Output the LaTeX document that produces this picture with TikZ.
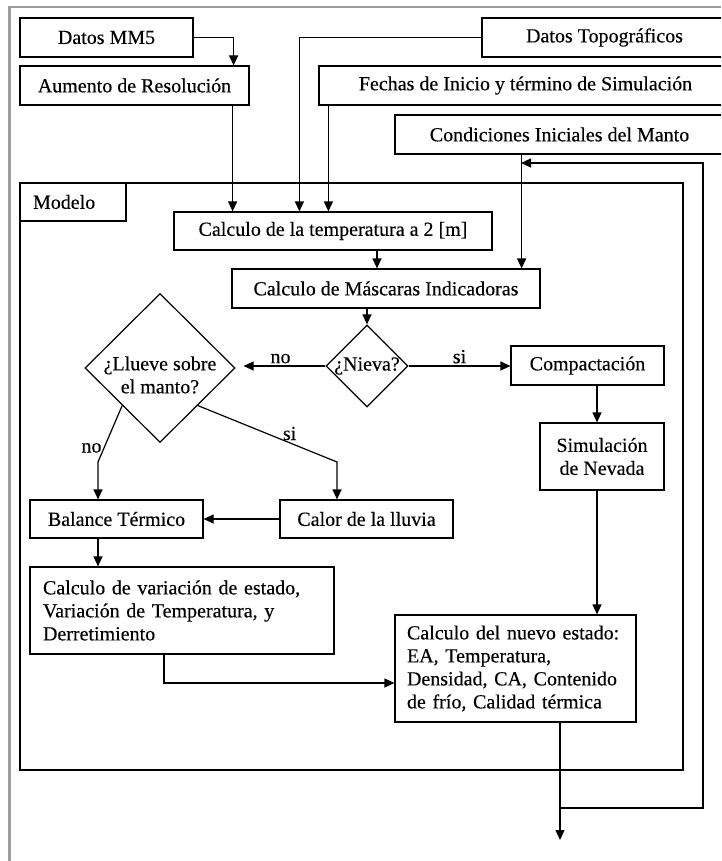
\documentclass[tikz,border=0pt]{standalone}
\usepackage{fontspec}
\setmainfont{Liberation Serif}[FakeBold=0.3]
\usetikzlibrary{shapes.geometric,arrows.meta}

\tikzset{
  box/.style={draw, line width=1.2pt, inner sep=2pt, align=center},
  decision/.style={draw, diamond, line width=1.2pt, inner sep=0pt},
  arr/.style={line width=1.2pt, -{Triangle[length=10pt,width=9pt]}},
  lab/.style={inner sep=2pt},
}

\begin{document}
\begin{tikzpicture}[x=1pt, y=-1pt, font=\fontsize{20}{23}\selectfont]
    \useasboundingbox (0,0) rectangle (721,861);
    \clip (0,0) rectangle (721,861);

    % Page frame (grey)
    \draw[black!38, line width=2.5pt] (9.5,861) -- (9.5,7) -- (721,7);

    % Inputs
    \node[box, minimum width=173pt, minimum height=39pt] (mm5) at (106.5,37.5) {Datos MM5};
    \node[box, minimum width=229pt, minimum height=39pt] (aumento) at (134.5,85.5) {Aumento de Resolución};
    \node[box, minimum width=245pt, minimum height=39pt] (topo) at (604.5,37.5) {Datos Topográficos};
    \node[box, minimum width=413pt, minimum height=39pt] (fechas) at (525.5,85.5) {Fechas de Inicio y término de Simulación};
    \node[box, minimum width=329pt, minimum height=39pt] (cond) at (559.5,134.5) {Condiciones Iniciales del Manto};

    % Model frame
    \draw[line width=1.2pt] (20,183) rectangle (683,770);
    \node[box, text width=80pt, inner xsep=13pt, minimum height=38pt, align=left] (modelo) at (73,202) {Modelo};

    % Model steps
    \node[box, minimum width=318pt, minimum height=38pt] (temp) at (333,231) {Calculo de la temperatura a 2 [m]};
    \node[box, minimum width=308pt, minimum height=39pt] (masc) at (386,288.5) {Calculo de Máscaras Indicadoras};
    \node[decision, minimum width=82pt, minimum height=82pt, label=center:{¿Nieva?}] (nieva) at (367,366) {};
    \node[decision, minimum width=150pt, minimum height=149pt,
          label={[align=center, yshift=-7pt]center:{¿Llueve sobre\\el manto?}}] (llueve) at (160,368) {};
    \node[box, minimum width=153pt, minimum height=39pt] (compact) at (587.5,365.5) {Compactación};
    \node[box, minimum width=124pt, minimum height=67pt] (simul) at (602,456.5) {Simulación\\de Nevada};
    \node[box, minimum width=173pt, minimum height=38pt] (balance) at (116.5,519) {Balance Térmico};
    \node[box, minimum width=173pt, minimum height=38pt] (calor) at (366.5,519) {Calor de la lluvia};
    \node[box, text width=278pt, inner xsep=13pt, minimum height=87pt, align=left] (variacion) at (182,610.5)
        {Calculo de variación de estado,\\Variación de Temperatura, y\\Derretimiento};
    \node[box, text width=217pt, inner xsep=12pt, minimum height=107pt, align=left] (nuevo) at (515.5,668.5)
        {Calculo del nuevo estado:\\EA, Temperatura,\\Densidad, CA, Contenido\\de frío, Calidad térmica};

    % Connector points
    \coordinate (aumtop) at ([xshift=-16pt]aumento.north east);
    \coordinate (aumbot) at ([xshift=-17pt]aumento.south east);
    \coordinate (topin) at ([xshift=126pt]temp.north west);
    \coordinate (fechout) at ([xshift=10pt]fechas.south west);
    \coordinate (tempout) at ([xshift=-9pt]masc.north);
    \coordinate (condin) at ([xshift=-19pt]masc.north east);
    \coordinate (simin) at ([xshift=-5pt]simul.north);
    \coordinate (nuevoin) at ([xshift=81.5pt]nuevo.north);
    \coordinate (balin) at ([xshift=-18.5pt]balance.north);
    \coordinate (nobend) at (98,462);
    \coordinate (calorin) at ([xshift=-29.5pt]calor.north);
    \coordinate (sibend) at (337,462);
    \coordinate (varout) at ([xshift=-18pt]variacion.south);
    \coordinate (nuevoleft) at ([yshift=-14.5pt]nuevo.west);
    \coordinate (nuevoout) at ([xshift=44.5pt]nuevo.south);
    \coordinate (fin) at (560,840);
    \coordinate (loopa) at (560,808);
    \coordinate (loopb) at (703,808);
    \coordinate (loopend) at (521,163);

    % Inputs into the model
    \draw[arr] (mm5.east) -| (aumtop);
    \draw[arr] (aumbot) -- (aumbot |- temp.north);
    \draw[arr] (topo.west) -| (topin);
    \draw[arr] (fechout) -- (fechout |- temp.north);
    \draw[arr] (condin |- cond.south) -- (condin);

    % Flow inside the model
    \draw[arr] (tempout |- temp.south) -- (tempout);
    \draw[arr] (masc.south -| nieva.north) -- (nieva.north);
    \draw[arr, shorten >=8pt] (nieva.west) -- node[lab, above]{no} (nieva.west -| llueve.east);
    \draw[arr] (nieva.east) -- node[lab, above]{si} (nieva.east -| compact.west);
    \draw[arr] (simin |- compact.south) -- (simin);
    \draw[arr] (nuevoin |- simul.south) -- (nuevoin);
    \draw[arr] (llueve.south west) -- node[lab, left, pos=0.75]{no} (nobend) -- (balin);
    \draw[arr] (llueve.south east) -- node[lab, above, pos=0.66]{si} (sibend) -- (calorin);
    \draw[arr] (calor.west) -- (balance.east);
    \draw[arr] (balin |- balance.south) -- (balin |- variacion.north);
    \draw[arr] (varout) |- (nuevoleft);

    % Output and loop back
    \draw[arr] (nuevoout) -- (fin);
    \draw[arr] (loopa) -- (loopb) |- (loopend);
\end{tikzpicture}
\end{document}
